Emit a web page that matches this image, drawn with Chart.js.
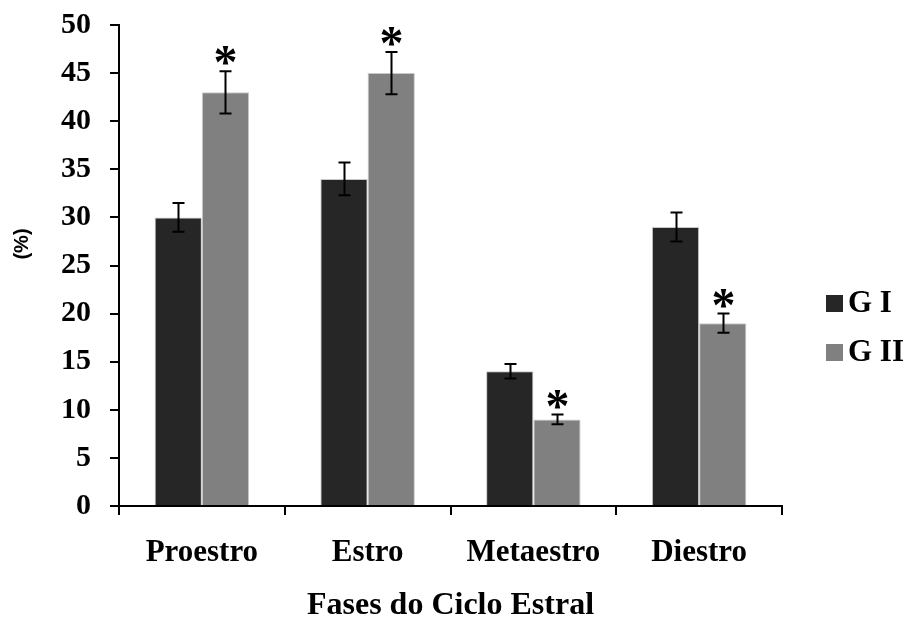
<!DOCTYPE html>
<html>
<head>
<meta charset="utf-8">
<script src="https://cdn.jsdelivr.net/npm/chart.js@4.4.0/dist/chart.umd.min.js"></script>
<style>
  html, body { margin: 0; padding: 0; background: #fff; }
  #wrap { width: 908px; height: 623px; }
</style>
</head>
<body>
<div id="wrap"><canvas id="barChart"></canvas></div>
<script>
// dados
const fases = ['Proestro', 'Estro', 'Metaestro', 'Diestro'];
const grupos = ['G I', 'G II'];
const grupo1 = [30, 34, 14, 29];
const grupo2 = [43, 45, 9, 19];
const erro1 = [1.5, 1.7, 0.75, 1.5];
const erro2 = [2.2, 2.2, 0.5, 1.0];
const signif2 = [true, true, true, true];
const cores = ['#262626', '#808080'];

const serif = "'Liberation Serif', 'Times New Roman', serif";

// error bars, asterisks, legend and y title
const extras = {
    id: 'extras',
    afterDatasetsDraw(chart) {
        const ctx = chart.ctx;
        const yScale = chart.scales.y;
        const errs = [erro1, erro2];
        ctx.save();
        ctx.strokeStyle = '#000';
        ctx.lineWidth = 2;
        chart.data.datasets.forEach(function (ds, d) {
            let meta = chart.getDatasetMeta(d);
            meta.data.forEach(function (bar, i) {
                let v = ds.data[i];
                let top = yScale.getPixelForValue(v + errs[d][i]);
                let bot = yScale.getPixelForValue(v - errs[d][i]);
                let x = Math.round(bar.x) + 0.5;
                ctx.beginPath();
                ctx.moveTo(x, top); ctx.lineTo(x, bot);
                ctx.moveTo(x - 6, top); ctx.lineTo(x + 6, top);
                ctx.moveTo(x - 6, bot); ctx.lineTo(x + 6, bot);
                ctx.stroke();
                if (d === 1 && signif2[i]) {
                    ctx.fillStyle = '#000';
                    ctx.font = 'bold 48px ' + serif;
                    ctx.textAlign = 'center';
                    ctx.textBaseline = 'alphabetic';
                    ctx.fillText('*', x, top + 7);
                }
            });
        });

        // legend
        ctx.font = 'bold 31px ' + serif;
        ctx.textAlign = 'left';
        ctx.textBaseline = 'middle';
        [303, 352].forEach(function (cy, k) {
            ctx.fillStyle = cores[k];
            ctx.fillRect(826, cy - 8, 17, 17);
            ctx.fillStyle = '#000';
            ctx.fillText(grupos[k], 848, cy + 1);
        });

        // y title
        ctx.translate(22, 244);
        ctx.rotate(-Math.PI / 2);
        ctx.textAlign = 'center';
        ctx.font = "bold 20px 'Liberation Sans', Arial, sans-serif";
        ctx.fillText('(%)', 0, 0);
        ctx.restore();
    }
};

let barCtx = document.getElementById('barChart').getContext('2d');
let barChart = new Chart(barCtx, {
    type: 'bar',
    data: {
        labels: fases,
        datasets: [{
            label: grupos[0],
            data: grupo1,
            backgroundColor: cores[0],
            borderColor: '#c8c8c8',
            borderWidth: 1,
            barPercentage: 1.0,
            categoryPercentage: 0.57
        }, {
            label: grupos[1],
            data: grupo2,
            backgroundColor: cores[1],
            borderColor: '#c8c8c8',
            borderWidth: 1,
            barPercentage: 1.0,
            categoryPercentage: 0.57
        }]
    },
    options: {
        responsive: true,
        maintainAspectRatio: false,
        animation: false,
        layout: { padding: { top: 0, right: 126, left: 0, bottom: 0 } },
        plugins: {
            tooltip: { enabled: false },
            legend: { display: false }
        },
        scales: {
            x: {
                afterFit: function (scale) { scale.height = 117; },
                grid: {
                    display: true,
                    offset: true,
                    drawOnChartArea: false,
                    color: '#000',
                    lineWidth: 2,
                    tickLength: 9
                },
                border: { color: '#000', width: 2 },
                ticks: {
                    color: '#000',
                    padding: 19,
                    font: { family: serif, size: 31, weight: 'bold' }
                },
                title: {
                    display: true,
                    text: 'Fases do Ciclo Estral',
                    color: '#000',
                    padding: { top: 17, bottom: 0 },
                    font: { family: serif, size: 32, weight: 'bold', lineHeight: 1.1 }
                }
            },
            y: {
                min: 0,
                max: 50,
                afterFit: function (scale) {
                    scale.width = 119;
                    scale.paddingTop = 25;
                },
                grid: {
                    display: true,
                    drawOnChartArea: false,
                    color: '#000',
                    lineWidth: 2,
                    tickLength: 9
                },
                border: { color: '#000', width: 2 },
                ticks: {
                    stepSize: 5,
                    color: '#000',
                    padding: 19,
                    font: { family: serif, size: 30, weight: 'bold' }
                }
            }
        }
    },
    plugins: [extras]
});
</script>
</body>
</html>
